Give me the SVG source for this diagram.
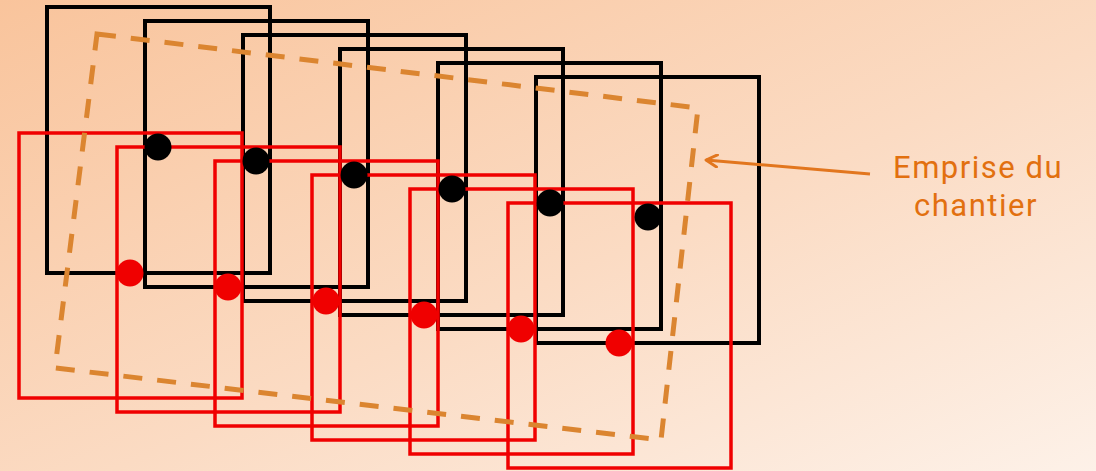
<svg xmlns="http://www.w3.org/2000/svg" width="1096" height="471" viewBox="0 0 1096 471">
  <defs>
    <linearGradient id="bg" x1="0" y1="0" x2="1" y2="1">
      <stop offset="0" stop-color="#F9C49C"/>
      <stop offset="0.55" stop-color="#FBDBC3"/>
      <stop offset="1" stop-color="#FDF1E8"/>
    </linearGradient>
    <marker id="arr" markerWidth="16" markerHeight="14" refX="14" refY="7" orient="auto" markerUnits="userSpaceOnUse">
      <path d="M3,1 L14,7 L3,13" fill="none" stroke="#E2761E" stroke-width="3" stroke-linecap="round" stroke-linejoin="round"/>
    </marker>
    <style>
      .blk { fill: none; stroke: #000; stroke-width: 4; }
      .red { fill: none; stroke: #F00000; stroke-width: 3.5; }
      .bdot { fill: #000; }
      .rdot { fill: #F00000; }
      .zone { fill: none; stroke: #DB8530; stroke-width: 5; stroke-dasharray: 19 15; }
      .lbl { font-family: Roboto, "Liberation Sans", sans-serif; font-size: 31px; letter-spacing: 1.5px; fill: #E2700F; text-anchor: middle; }
    </style>
  </defs>
  <rect x="0" y="0" width="1096" height="471" fill="url(#bg)"/>

  <g id="black-frames">
    <rect class="blk" x="47" y="7" width="223" height="266"/>
    <rect class="blk" x="145" y="21" width="223" height="266"/>
    <rect class="blk" x="243" y="35" width="223" height="266"/>
    <rect class="blk" x="340" y="49" width="223" height="266"/>
    <rect class="blk" x="438" y="63" width="223" height="266"/>
    <rect class="blk" x="536" y="77" width="223" height="266"/>
  </g>

  <g id="red-frames">
    <rect class="red" x="19" y="133" width="223" height="265"/>
    <rect class="red" x="117" y="147" width="223" height="265"/>
    <rect class="red" x="215" y="161" width="223" height="265"/>
    <rect class="red" x="312" y="175" width="223" height="265"/>
    <rect class="red" x="410" y="189" width="223" height="265"/>
    <rect class="red" x="508" y="203" width="223" height="265"/>
  </g>

  <g id="emprise">
    <polygon class="zone" points="97,34 698,108 661,440 55,368"/>
  </g>

  <g id="black-dots">
    <circle class="bdot" cx="158" cy="147" r="13.5"/>
    <circle class="bdot" cx="256" cy="161" r="13.5"/>
    <circle class="bdot" cx="354" cy="175" r="13.5"/>
    <circle class="bdot" cx="452" cy="189" r="13.5"/>
    <circle class="bdot" cx="550" cy="203" r="13.5"/>
    <circle class="bdot" cx="648" cy="217" r="13.5"/>
  </g>

  <g id="red-dots">
    <circle class="rdot" cx="130" cy="273" r="13.5"/>
    <circle class="rdot" cx="228" cy="287" r="13.5"/>
    <circle class="rdot" cx="326" cy="301" r="13.5"/>
    <circle class="rdot" cx="424" cy="315" r="13.5"/>
    <circle class="rdot" cx="521" cy="329" r="13.5"/>
    <circle class="rdot" cx="619" cy="343" r="13.5"/>
  </g>

  <g id="connectors">
    <line x1="870" y1="174" x2="706" y2="160" stroke="#E2761E" stroke-width="3" marker-end="url(#arr)"/>
  </g>

  <g id="label">
    <text class="lbl" x="978" y="178">Emprise du</text>
    <text class="lbl" x="976" y="216">chantier</text>
  </g>
</svg>
